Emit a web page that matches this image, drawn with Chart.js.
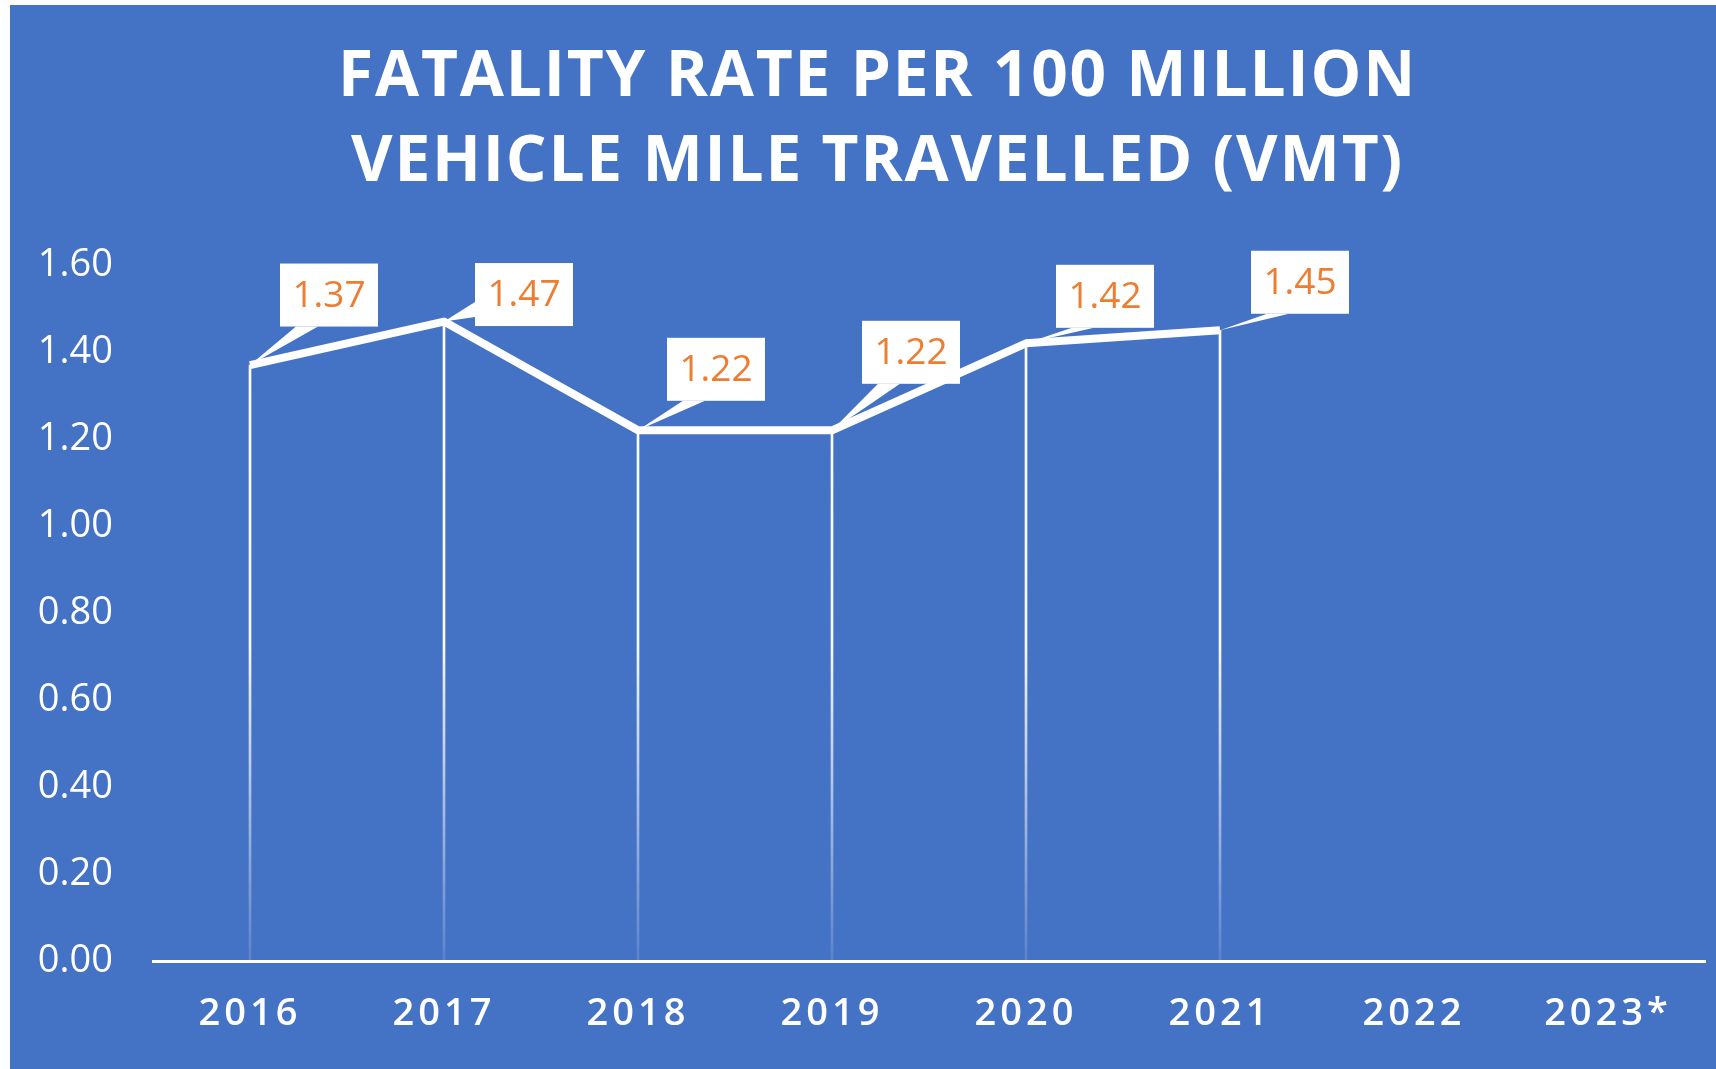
<!DOCTYPE html>
<html><head><meta charset="utf-8">
<script src="https://cdn.jsdelivr.net/npm/chart.js@4.4.1/dist/chart.umd.min.js"></script>
<style>
html,body{margin:0;padding:0;background:#fff;width:1716px;height:1069px;overflow:hidden}
#wrap{position:absolute;left:10px;top:5px;width:1706px;height:1064px;background:#4472C4}
canvas{display:block}
</style></head><body>
<div id="wrap"><canvas id="c" width="1706" height="1064"></canvas></div>
<script>
// ---- data ----
const categories = ['2016', '2017', '2018', '2019', '2020', '2021', '2022', '2023*'];
const fatalityRate = [1.37, 1.47, 1.22, 1.22, 1.42, 1.45, null, null];
const titleLines = ['FATALITY RATE PER 100 MILLION', 'VEHICLE MILE TRAVELLED (VMT)'];
const yMin = 0, yMax = 1.6, yStep = 0.2;

// ---- style ----
const WHITE = '#FFFFFF';
const ORANGE = '#ED7D31';
const calloutOffsets = [[79, -70], [80, -27], [78, -61], [79, -78], [79, -47], [80, -48]];

const spacingPlugin = {
  id: 'spacing',
  beforeDraw(chart, args, opts) {
    const patch = (obj, m, sp, shift) => {
      if (!obj || obj['__p' + m]) return;
      const orig = obj[m];
      obj[m] = function (...a) {
        const c = this.ctx; const prev = c.letterSpacing;
        c.save();
        c.letterSpacing = sp;
        if (shift) c.translate(shift, 0);
        const r = orig.apply(this, a);
        c.restore();
        c.letterSpacing = prev;
        return r;
      };
      obj['__p' + m] = true;
    };
    patch(chart.titleBlock, 'draw', opts.title, opts.titleShift);
    patch(chart.scales.x, 'drawLabels', opts.x, 0);
    patch(chart.scales.y, 'drawLabels', opts.y, 0);
  }
};

const calloutPlugin = {
  id: 'callouts',
  afterDatasetsDraw(chart, args, opts) {
    const meta = chart.getDatasetMeta(0);
    const data = chart.data.datasets[0].data;
    const ctx = chart.ctx;
    ctx.save();
    ctx.font = opts.font;
    meta.data.forEach((pt, i) => {
      const v = data[i];
      if (v == null) return;
      const off = opts.offsets[i];
      const cx = pt.x + off[0], cy = pt.y + off[1];
      const w = opts.width, h = opts.height;
      const L = cx - w / 2, T = cy - h / 2, B = cy + h / 2;
      ctx.fillStyle = WHITE;
      ctx.beginPath();
      const dy = pt.y - B, dx = L - pt.x;
      if (dy > dx * 0.5) {
        ctx.moveTo(L + 16, B); ctx.lineTo(L + 38, B);
      } else {
        ctx.moveTo(L, B - 24); ctx.lineTo(L, B - 9);
      }
      ctx.lineTo(pt.x, pt.y);
      ctx.closePath();
      ctx.fill();
      ctx.fillRect(L, T, w, h);
      ctx.fillStyle = opts.color;
      ctx.textAlign = 'center';
      ctx.textBaseline = 'middle';
      ctx.fillText(v.toFixed(2), cx, cy + 1);
    });
    ctx.restore();
  }
};

const ctx = document.getElementById('c').getContext('2d');
new Chart(ctx, {
  data: {
    labels: categories,
    datasets: [
      {
        type: 'line',
        data: fatalityRate,
        borderColor: WHITE,
        borderWidth: 8,
        pointRadius: 0,
        tension: 0,
        order: 0,
        borderJoinStyle: 'round'
      },
      {
        type: 'bar',
        data: fatalityRate,
        barThickness: 2,
        order: 1,
        backgroundColor: (c) => {
          const ca = c.chart.chartArea;
          if (!ca) return WHITE;
          const g = c.chart.ctx.createLinearGradient(0, ca.top, 0, ca.bottom);
          g.addColorStop(0, 'rgba(255,255,255,1)');
          g.addColorStop(0.55, 'rgba(255,255,255,0.95)');
          g.addColorStop(1, 'rgba(255,255,255,0.12)');
          return g;
        }
      }
    ]
  },
  options: {
    responsive: false,
    animation: false,
    events: [],
    layout: { padding: { left: 0, right: 11, top: 0, bottom: 0 } },
    plugins: {
      legend: { display: false },
      tooltip: { enabled: false },
      title: {
        display: true,
        text: titleLines,
        color: WHITE,
        font: { family: '"Open Sans"', size: 64, weight: 'bold', lineHeight: '85px' },
        padding: { top: 30, bottom: 60 }
      },
      spacing: { title: '1.8px', titleShift: 20, x: '4px', y: '0px' },
      callouts: { offsets: calloutOffsets, width: 98, height: 63, color: ORANGE, font: '37px "Open Sans"' }
    },
    scales: {
      x: {
        offset: true,
        grid: { display: false, drawTicks: false },
        border: { display: true, color: WHITE, width: 3 },
        ticks: { color: WHITE, padding: 30, font: { family: '"Open Sans"', size: 38, weight: '600' } },
        afterFit: (s) => { s.height = 108; }
      },
      y: {
        min: yMin, max: yMax,
        grid: { display: false, drawTicks: false },
        border: { display: false },
        ticks: {
          stepSize: yStep, color: WHITE, padding: 40,
          font: { family: '"Open Sans"', size: 38 },
          callback: (v) => Number(v).toFixed(2)
        },
        afterFit: (s) => { s.width = 143; }
      }
    }
  },
  plugins: [spacingPlugin, calloutPlugin]
});
</script>
</body></html>
